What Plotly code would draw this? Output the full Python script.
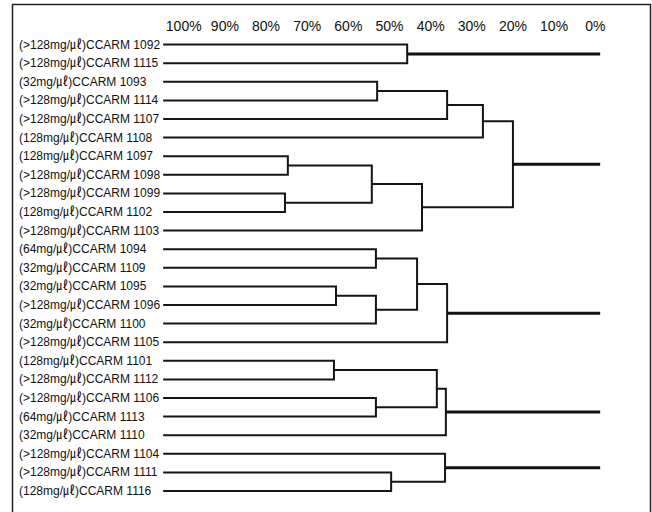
import plotly.graph_objects as go

# ---------------- data ----------------
strains = ["CCARM 1092", "CCARM 1115", "CCARM 1093", "CCARM 1114", "CCARM 1107",
           "CCARM 1108", "CCARM 1097", "CCARM 1098", "CCARM 1099", "CCARM 1102",
           "CCARM 1103", "CCARM 1094", "CCARM 1109", "CCARM 1095", "CCARM 1096",
           "CCARM 1100", "CCARM 1105", "CCARM 1101", "CCARM 1112", "CCARM 1106",
           "CCARM 1113", "CCARM 1110", "CCARM 1104", "CCARM 1111", "CCARM 1116"]
mic = [">128", ">128", "32", ">128", ">128",
       "128", "128", ">128", ">128", "128",
       ">128", "64", "32", "32", ">128",
       "32", ">128", "128", ">128", ">128",
       "64", "32", ">128", ">128", "128"]

# merges: (child a, child b, similarity %) ; nodes 0..24 are leaves, 25.. are merges
merge_a = [0, 2, 26, 27, 6, 8, 29, 31, 28, 11, 13, 35, 34, 37, 17, 19, 39, 41, 23, 22]
merge_b = [1, 3, 4, 5, 7, 9, 30, 10, 32, 12, 14, 15, 36, 16, 18, 20, 40, 21, 24, 43]
merge_h = [45.7, 53.0, 36.0, 27.3, 74.7, 75.4, 54.3, 42.1, 20.0, 53.3,
           63.0, 53.3, 43.3, 36.0, 63.5, 53.3, 38.5, 36.3, 49.6, 36.5]

tick_vals = [100, 90, 80, 70, 60, 50, 40, 30, 20, 10, 0]
tick_text = ["100%", "90%", "80%", "70%", "60%", "50%", "40%", "30%", "20%", "10%", "0%"]

# ---------------- layout constants ----------------
LEAF_X = 105.0   # where leaf lines start
TAIL_X = -1.2    # where root tails end
W, H = 652, 512
TOP = 35

n = len(strains)
node_x = [LEAF_X] * n
node_y = [float(i) for i in range(n)]
used = set()

bx, by = [], []
for a, b, h in zip(merge_a, merge_b, merge_h):
    bx += [node_x[a], h, h, node_x[b], None]
    by += [node_y[a], node_y[a], node_y[b], node_y[b], None]
    node_x.append(h)
    node_y.append((node_y[a] + node_y[b]) / 2)
    used.update([a, b])

tx, ty = [], []
for k in range(n, len(node_x)):
    if k not in used:
        tx += [node_x[k], TAIL_X, None]
        ty += [node_y[k], node_y[k], None]

fig = go.Figure()
fig.add_trace(go.Scatter(x=bx, y=by, mode="lines", hoverinfo="skip",
                         line=dict(color="#151515", width=2)))
fig.add_trace(go.Scatter(x=tx, y=ty, mode="lines", hoverinfo="skip",
                         line=dict(color="#111111", width=3)))

for i, (s, m) in enumerate(zip(strains, mic)):
    fig.add_annotation(x=17 / W, xref="paper", y=i, yref="y",
                       text=f"({m}mg/㎕){s}", showarrow=False,
                       xanchor="left", yanchor="middle",
                       font=dict(family="Liberation Sans, Arial, Noto Sans CJK KR",
                                 size=12, color="#111111"))

plot_h = H - TOP
fig.add_shape(type="rect", xref="paper", yref="paper",
              x0=12.5 / W, x1=650.5 / W,
              y0=-4 / plot_h, y1=(H - 4.5) / plot_h,
              line=dict(color="#222222", width=1.5), fillcolor="rgba(0,0,0,0)")

y_top = (TOP - 44.6) / 18.6
y_bot = (H - 44.6) / 18.6

fig.update_layout(
    width=W, height=H,
    margin=dict(l=0, r=0, t=TOP, b=0),
    paper_bgcolor="white", plot_bgcolor="white",
    showlegend=False,
    xaxis=dict(range=[144.65, -13.79], side="top", tickvals=tick_vals,
               ticktext=tick_text, showgrid=False, zeroline=False,
               showline=False, ticks="",
               tickfont=dict(family="Liberation Sans, Arial", size=14, color="#111111")),
    yaxis=dict(range=[y_bot, y_top], visible=False, showgrid=False, zeroline=False),
)

fig.write_html("out.html", config={"displayModeBar": False},
               post_script="document.body.style.margin='0px';document.body.style.overflow='hidden';")
